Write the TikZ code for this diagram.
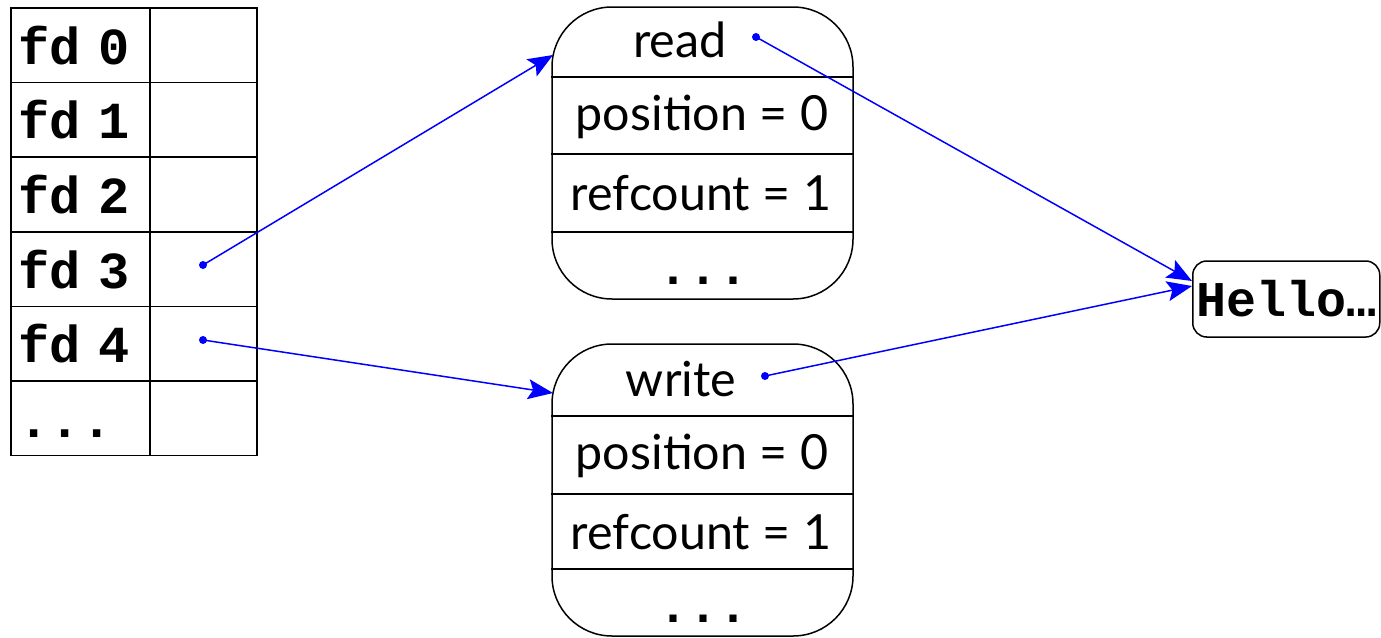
\documentclass[tikz,border=0pt]{standalone}
\usepackage{fontspec}
\setmainfont{Lato}
\setmonofont{Liberation Mono}
\usetikzlibrary{arrows.meta}
\definecolor{ptrblue}{RGB}{0,0,255}
\begin{document}
\begin{tikzpicture}[x=0.5pt,y=-0.5pt,
  frame/.style={draw=black, line width=0.75pt},
  keycell/.style={frame, anchor=north west, minimum width=69.5pt, minimum height=37.33pt,
    inner xsep=4pt, text width=61.5pt, align=left, font=\fontsize{26}{30}\selectfont\ttfamily\bfseries},
  valcell/.style={frame, anchor=north west, minimum width=53.5pt, minimum height=37.33pt},
  filebox/.style={frame, rounded corners=30pt, minimum width=150.5pt, minimum height=146pt, inner sep=0pt},
  field/.style={inner sep=0pt, font=\fontsize{24.2}{28}\selectfont},
  dots/.style={inner sep=0pt, anchor=base, font=\fontsize{25}{29}\selectfont\ttfamily\bfseries},
  ptr/.style={draw=ptrblue, line width=0.75pt, -{Stealth[length=12.5pt,width=10pt,inset=2.5pt]}},
  ptrdot/.style={fill=ptrblue}]
\useasboundingbox (0,0) rectangle (1381,637);
\clip (0,0) rectangle (1381,637);

% descriptor table
\foreach \i/\y in {0/7,1/81.67,2/156.33,3/231,4/305.67,5/380.33}{
  \node[valcell] (v\i) at (149,\y) {};
}
\foreach \i/\y in {0/7,1/81.67,2/156.33,3/231,4/305.67}{
  \node[keycell] (k\i) at (10,\y) {fd \i};
}
\node[keycell] (k5) at (10,380.33) {\vphantom{fd}...};

% open file objects
\node[filebox] (rd) at (702.5,153) {};
\node[filebox] (wr) at (702.5,490) {};
\foreach \b/\ya/\yb/\yc in {rd/77/154/232, wr/416/494/569}{
  \draw[line width=0.75pt] (\b.west |- 0,\ya) -- (\b.east |- 0,\ya);
  \draw[line width=0.75pt] (\b.west |- 0,\yb) -- (\b.east |- 0,\yb);
  \draw[line width=0.75pt] (\b.west |- 0,\yc) -- (\b.east |- 0,\yc);
}
\node[field] (rdmode) at (680,40) {read};
\node[field] (rdpos) at (702,117) {position = 0};
\node[field] (rdref) at (701,193) {refcount = 1};
\node[dots] (rdmore) at (703,284) {...};
\node[field] (wrmode) at (681,379) {write};
\node[field] (wrpos) at (702,456) {position = 0};
\node[field] (wrref) at (701,532) {refcount = 1};
\node[dots] (wrmore) at (703,622) {...};

% file contents
\node[frame, rounded corners=7pt, anchor=west, minimum height=38pt, minimum width=93.5pt, inner xsep=1.5pt] (hello)
  at (1192,299) {\fontsize{25}{29}\selectfont\ttfamily\bfseries Hello…};

% pointers
\coordinate (p3) at (203,265);
\coordinate (p4) at (203,340);
\coordinate (prd) at (756,37);
\coordinate (pwr) at (765,376);
\coordinate (rdin) at (553,55);
\coordinate (wrin) at (553,393);
\foreach \p in {p3,p4,prd,pwr}{ \fill[ptrdot] (\p) circle (2pt); }
\draw[ptr] (p3) -- (rdin);
\draw[ptr] (p4) -- (wrin);
\draw[ptr] (prd) -- ([yshift=9pt]hello.west);
\draw[ptr] (pwr) -- ([yshift=6.5pt]hello.west);
\end{tikzpicture}
\end{document}
